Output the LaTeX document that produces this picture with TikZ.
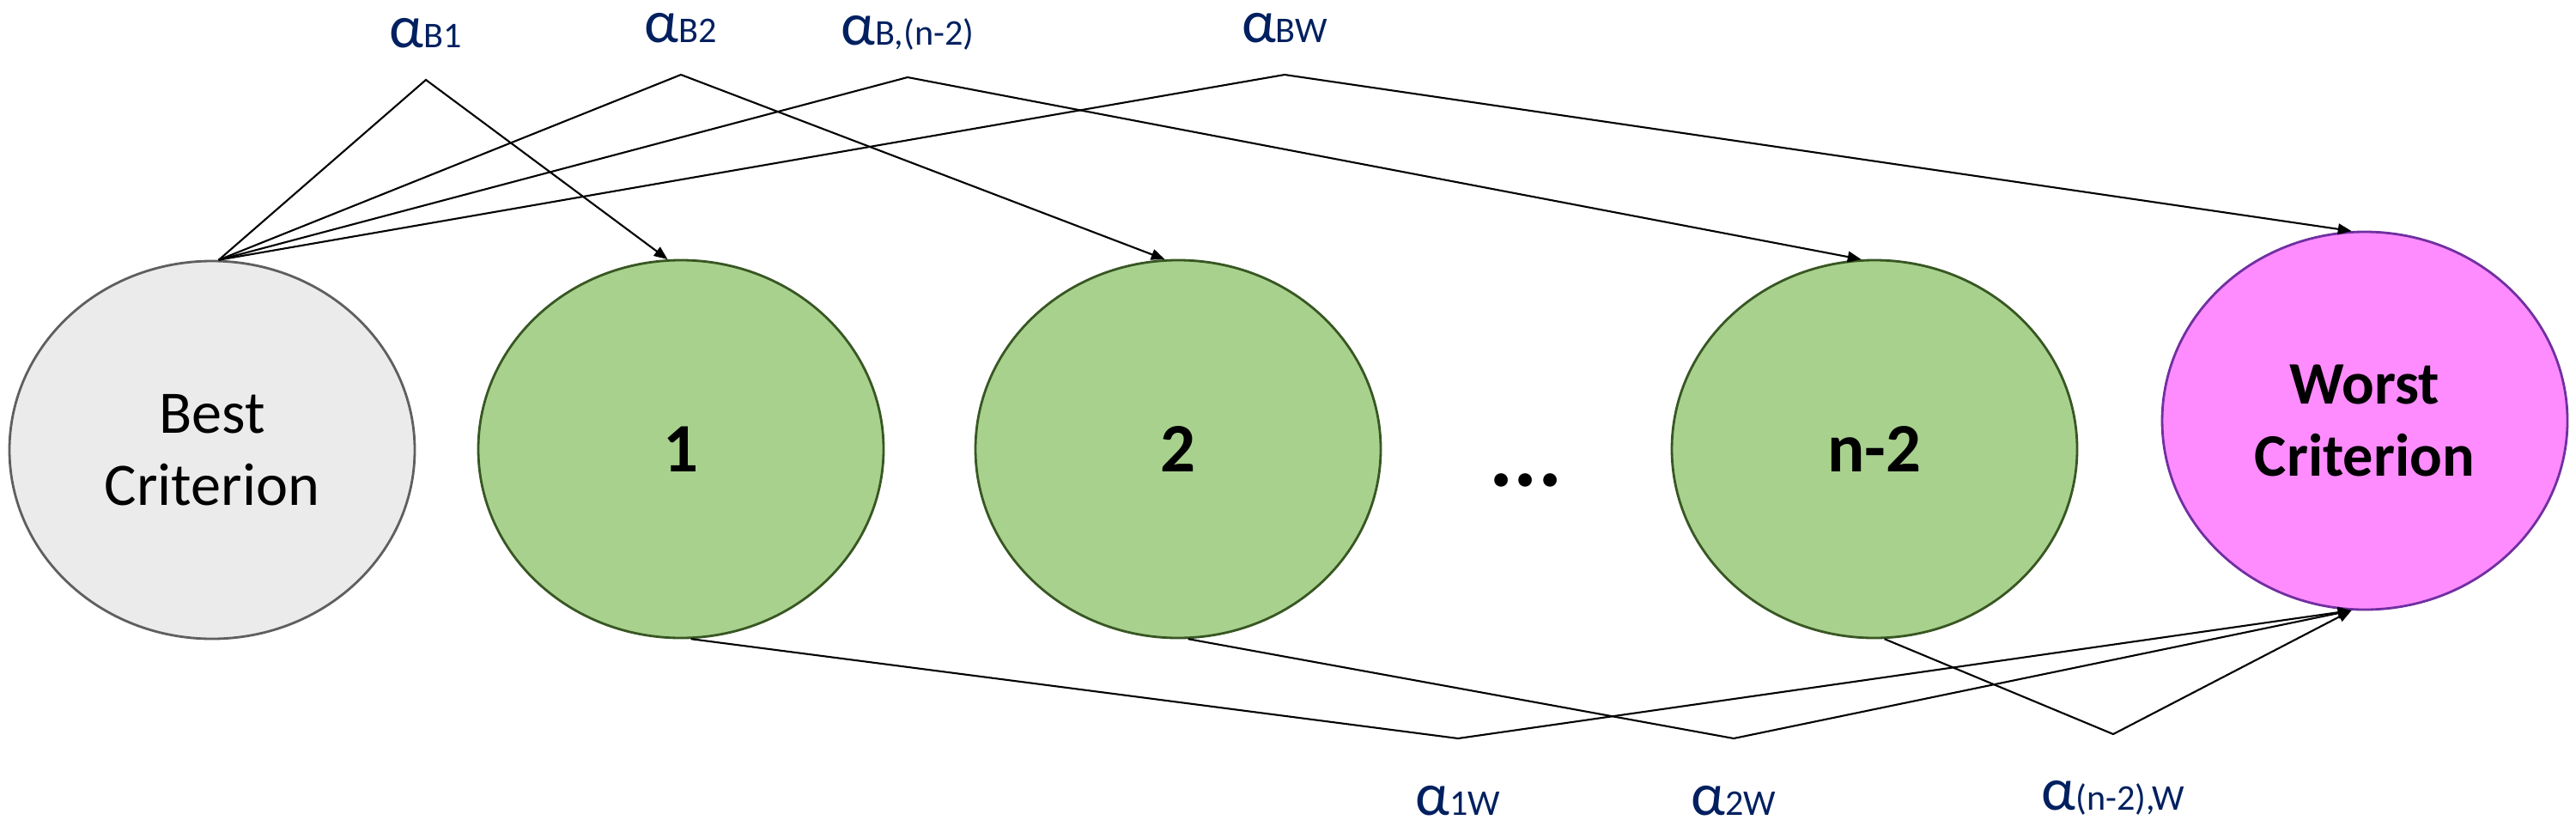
\documentclass[tikz,border=0pt]{standalone}
\usepackage{fontspec}
\setmainfont{Carlito}
\usepackage{xcolor}
\definecolor{bestfill}{RGB}{235,235,235}
\definecolor{bestdraw}{RGB}{95,95,95}
\definecolor{midfill}{RGB}{169,209,142}
\definecolor{middraw}{RGB}{56,87,35}
\definecolor{worstfill}{RGB}{255,140,255}
\definecolor{worstdraw}{RGB}{112,48,160}
\definecolor{wtblue}{RGB}{0,32,96}
\usepackage{tikz}
\usetikzlibrary{shapes.geometric,arrows.meta,positioning}
\newcommand{\wt}[1]{{\fontsize{20}{20}\selectfont α}{\fontsize{12}{12}\selectfont #1}}

\begin{document}
\begin{tikzpicture}[
  crit/.style={
    ellipse, minimum width=4.72cm, minimum height=4.4cm,
    inner sep=0pt, align=center, line width=0.8pt
  },
  bestnode/.style={crit, draw=bestdraw, fill=bestfill, font=\fontsize{20}{24}\selectfont},
  midnode/.style={crit, draw=middraw, fill=midfill, font=\fontsize{23}{27}\selectfont\bfseries},
  worstnode/.style={crit, draw=worstdraw, fill=worstfill, font=\fontsize{20}{24}\selectfont\bfseries},
  wlabel/.style={text=wtblue, inner sep=0pt, anchor=base},
  arr/.style={-{Triangle[length=4.5pt,width=3.6pt]}, line width=0.6pt, color=black}
]
\useasboundingbox (0,0) rectangle (30,-9.61);

\node[bestnode] (best) at (2.47,-5.24) {Best\\Criterion};
\node[midnode] (c1) at (7.93,-5.23) {1};
\node[midnode] (c2) at (13.72,-5.23) {2};
\node[font=\fontsize{30}{30}\selectfont\bfseries, anchor=base] (dots) at (17.77,-5.66) {...};
\node[midnode] (cn) at (21.83,-5.23) {n-2};
\node[worstnode] (worst) at (27.54,-4.90) {Worst\\Criterion};

\coordinate (aB1) at (4.96,-0.93);
\coordinate (aB2) at (7.93,-0.87);
\coordinate (aBn) at (10.57,-0.90);
\coordinate (aBW) at (14.96,-0.87);
\coordinate (a1W) at (16.98,-8.60);
\coordinate (a2W) at (20.19,-8.60);
\coordinate (anW) at (24.61,-8.55);

\node[wlabel] (lB1) at ([yshift=3.8mm]aB1) {\wt{B1}};
\node[wlabel] (lB2) at ([yshift=3.8mm]aB2) {\wt{B2}};
\node[wlabel] (lBn) at ([yshift=3.8mm]aBn) {\wt{B,(n-2)}};
\node[wlabel] (lBW) at ([yshift=3.8mm]aBW) {\wt{BW}};
\node[wlabel] (l1W) at ([yshift=-8.9mm]a1W) {\wt{1W}};
\node[wlabel] (l2W) at ([yshift=-8.9mm]a2W) {\wt{2W}};
\node[wlabel] (lnW) at ([yshift=-8.8mm]anW) {\wt{(n-2),W}};

\draw[arr] (best.88) -- (aB1) -- (c1.94);
\draw[arr] (best.88) -- (aB2) -- (c2.94);
\draw[arr] (best.88) -- (aBn) -- (cn.94);
\draw[arr] (best.88) -- (aBW) -- (worst.94);
\draw[arr] (c1.273) -- (a1W) -- (worst.266);
\draw[arr] (c2.273) -- (a2W) -- (worst.266);
\draw[arr] (cn.273) -- (anW) -- (worst.266);
\end{tikzpicture}
\end{document}
